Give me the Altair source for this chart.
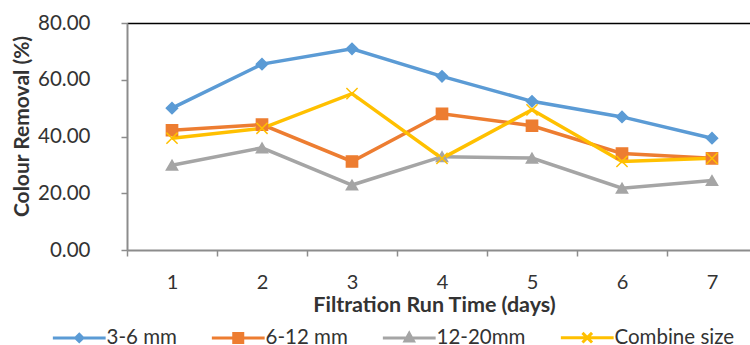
import altair as alt
import pandas as pd

# ---- data ----
days = [1, 2, 3, 4, 5, 6, 7]
series_names = ["3-6 mm", "6-12 mm", "12-20mm", "Combine size"]
s_3_6 = [50.0, 65.5, 70.9, 61.2, 52.4, 46.9, 39.4]
s_6_12 = [42.2, 44.2, 31.2, 48.0, 43.8, 34.0, 32.3]
s_12_20 = [29.9, 36.0, 22.9, 32.9, 32.4, 21.8, 24.5]
s_comb = [39.4, 42.9, 55.1, 32.3, 49.4, 31.2, 32.3]
y_ticks = [0, 20, 40, 60, 80]

colors = ["#5B9BD5", "#ED7D31", "#A5A5A5", "#FFC000"]
marker_shapes = ["diamond", "square", "triangle-up", "M-1,-1L1,1M-1,1L1,-1"]
# legend glyphs: a line segment with the marker drawn in strokes
legend_shapes = [
    "M-4.4,0L4.4,0M0,-0.6L0.6,0L0,0.6L-0.6,0Z",
    "M-4.4,0L4.4,0M-0.75,-0.75L0.75,-0.75L0.75,0.75L-0.75,0.75ZM-0.75,-0.45L0.75,-0.45M-0.75,0.45L0.75,0.45",
    "M-4.4,0L4.4,0M0,-0.75L0.7,0.5L-0.7,0.5ZM-0.4,0.3L0.4,0.3M-0.2,-0.3L0.2,-0.3",
    "M-4.4,0L4.4,0M-0.8,-0.8L0.8,0.8M-0.8,0.8L0.8,-0.8",
]

rows = []
for name, vals in zip(series_names, [s_3_6, s_6_12, s_12_20, s_comb]):
    for d, v in zip(days, vals):
        rows.append({"day": d, "series": name, "value": v})
df = pd.DataFrame(rows)

FONT = "Lato"
AXIS_GRAY = "#8C8C8C"
TEXT = "#333333"

x_scale = alt.Scale(type="band", paddingInner=0, paddingOuter=0, range=[0, 630])
y_scale = alt.Scale(domain=[0, 80], nice=False)
color_scale = alt.Scale(domain=series_names, range=colors)

x_axis = alt.Axis(
    orient="bottom", labelAngle=0, labelFont=FONT, labelFontSize=20, labelColor=TEXT,
    labelPadding=16, tickSize=6, tickBand="extent", tickColor=AXIS_GRAY, tickWidth=1.5,
    domainColor=AXIS_GRAY, domainWidth=2,
    title="Filtration Run Time (days)", titleFont=FONT, titleFontSize=21.5,
    titleFontWeight="bold", titleColor=TEXT, titleX=307, titleY=55,
    titleAlign="center", titleBaseline="middle",
)
y_axis = alt.Axis(
    orient="left", values=y_ticks, format=".2f", grid=False, labelFont=FONT, labelFontSize=20.5,
    labelColor=TEXT, labelPadding=31, tickSize=6, tickColor=AXIS_GRAY, tickWidth=1.5,
    domainColor=AXIS_GRAY, domainWidth=2,
    title="Colour Removal (%)", titleFont=FONT, titleFontSize=21, titleFontWeight="bold",
    titleColor=TEXT, titleX=-105, titleY=103, titleAngle=270,
    titleAlign="center", titleBaseline="middle",
)

base = alt.Chart(df)

lines = base.mark_line(strokeWidth=3.5).encode(
    x=alt.X("day:O", scale=x_scale, axis=x_axis),
    y=alt.Y("value:Q", scale=y_scale, axis=y_axis),
    color=alt.Color("series:N", scale=color_scale, legend=None),
    detail="series:N",
)

points = base.mark_point(filled=False, size=125, strokeWidth=1.5, opacity=1).encode(
    x=alt.X("day:O", scale=x_scale, axis=None),
    y=alt.Y("value:Q", scale=y_scale),
    color=alt.Color("series:N", scale=color_scale, legend=None),
    fill=alt.Fill("series:N", scale=color_scale, legend=None),
    shape=alt.Shape("series:N", scale=alt.Scale(domain=series_names, range=marker_shapes), legend=None),
)

leg = alt.Legend(
    title=None, orient="none", legendX=-77, legendY=304, direction="horizontal",
    symbolSize=144, symbolStrokeWidth=3, symbolOffset=19, labelOffset=17,
    labelFont=FONT, labelFontSize=20.5, labelColor=TEXT, columnPadding=28,
)

legend_layer = base.mark_point(filled=True, opacity=0).encode(
    x=alt.X("day:O", scale=x_scale, axis=alt.Axis(
        orient="top", ticks=False, labels=False, title=None,
        domainColor="#000000", domainWidth=1.5)),
    y=alt.Y("value:Q", scale=y_scale),
    color=alt.Color("series:N", scale=alt.Scale(domain=series_names, range=colors), legend=leg),
    stroke=alt.Stroke("series:N", scale=alt.Scale(domain=series_names, range=colors), legend=leg),
    shape=alt.Shape("series:N", scale=alt.Scale(domain=series_names, range=legend_shapes), legend=leg),
)

chart = (
    alt.layer(lines, points, legend_layer)
    .resolve_scale(color="independent", fill="independent", stroke="independent", shape="independent")
    .properties(
        width=623, height=227,
        autosize=alt.AutoSizeParams(type="none"),
        padding={"left": 127, "top": 23, "right": 0, "bottom": 95},
    )
    .configure_view(stroke=None)
    .configure(background="white")
)

chart.save("out.html", embed_options={"renderer": "svg", "actions": False})
